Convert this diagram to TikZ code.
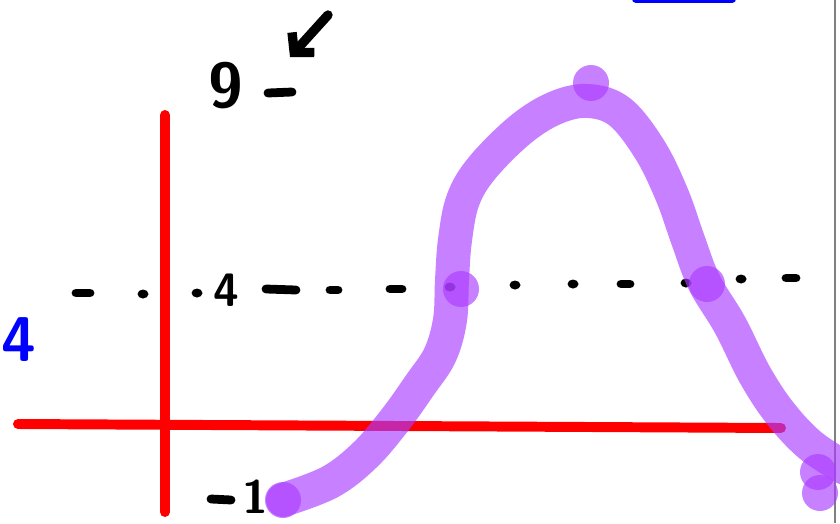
\documentclass[tikz,border=0pt]{standalone}
\usepackage{tikz}
\usetikzlibrary{arrows.meta, positioning}
\definecolor{AxisRed}{RGB}{255, 0, 0}
\definecolor{CurvePurple}{RGB}{170, 60, 255}
\definecolor{InkBlue}{RGB}{0, 0, 255}
\tikzset{
  axis/.style={draw=AxisRed, line width=8.5pt, line cap=round},
  ink/.style={draw=black, line width=7.5pt, line cap=round},
  curve/.style={draw=CurvePurple, draw opacity=0.65, line width=29pt, line cap=round, line join=round},
  blob/.style={fill=CurvePurple, fill opacity=0.65},
  digit/.style={font=\fontsize{54}{54}\selectfont\sffamily\bfseries, inner sep=0pt}
}
\begin{document}
\begin{tikzpicture}[x=0.03cm, y=-0.03cm]
        \useasboundingbox (0,0) rectangle (840,523);
        \fill[white] (0,0) rectangle (840,523);
        \draw[gray, line width=1.2pt] (835,0) -- (835,523);
        % axes
        \draw[axis] (165,115) -- (165,512);
        \draw[axis] (18,424) -- (781,428);
        % labels
        \node[digit] (nine) at (226,86) {9};
        \draw[ink] (268,93) -- (292,92);
        \coordinate (arrowfrom) at (328,15);
        \coordinate (arrowto) at (290,57);
        \draw[ink, line width=8pt, -{Straight Barb[length=4mm, width=9mm]}] (arrowfrom) -- (arrowto);
        \node[digit, font=\fontsize{40}{40}\selectfont\sffamily\bfseries] (four) at (226,290) {4};
        \node[digit, font=\fontsize{40}{40}\selectfont\sffamily\bfseries] (one) at (255,497) {1};
        \draw[ink] (211,499) -- (231,500);
        \node[digit, text=InkBlue, font=\fontsize{54}{54}\selectfont\sffamily\bfseries] (bluefour) at (19,340) {4};
        \draw[draw=InkBlue, line width=7pt, line cap=round] (636,-1) -- (732,-1);
        % dotted level line
        \draw[ink] (76,293) -- (90,293);
        \draw[ink] (266,289) -- (296,290);
        \draw[ink] (330,290) -- (338,290);
        \draw[ink] (390,289) -- (402,289);
        \draw[ink] (621,284) -- (630,284);
        \draw[ink] (786,278) -- (796,278);
        \foreach \px/\py in {143/294, 197/293, 450/287, 515/285, 573/284, 686/283, 741/279}
          \fill (\px,\py) ellipse (5.5 and 4.5);
        % curve
        \draw[curve] plot[smooth, tension=0.6] coordinates {(283,500) (330,482) (365,455) (395,420) (420,385) (440,355) (450,320) (452,280) (455,240) (463,200) (482,168) (520,130) (555,108) (588,101) (620,112) (650,150) (672,195) (688,240) (704,282) (730,325) (755,375) (780,413) (810,445) (845,468)};
        \foreach \px/\py/\name in {283/500/pa, 461/289/pb, 591/83/pc, 707/284/pd, 818/472/pe, 820/493/pf}
          \fill[blob] (\px,\py) circle (18) coordinate (\name);
\end{tikzpicture}
\end{document}
